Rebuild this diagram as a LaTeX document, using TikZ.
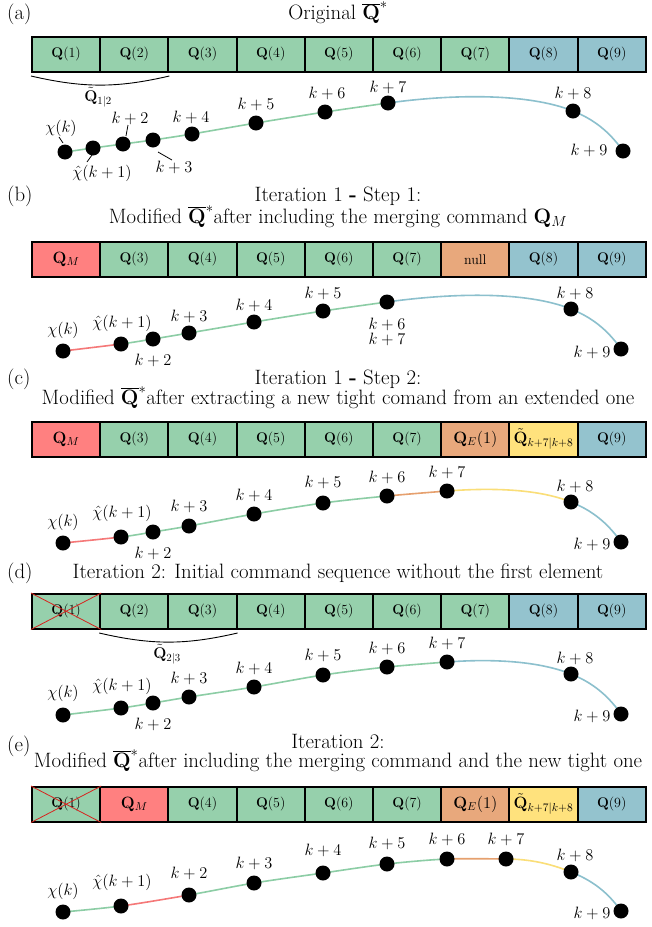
\RequirePackage{fix-cm}
\documentclass[tikz,border=0pt]{standalone}
\definecolor{gfill}{RGB}{150,208,172}
\definecolor{bfill}{RGB}{148,195,206}
\definecolor{rfill}{RGB}{255,128,128}
\definecolor{ofill}{RGB}{232,168,124}
\definecolor{yfill}{RGB}{255,226,125}
\definecolor{gline}{RGB}{140,205,165}
\definecolor{bline}{RGB}{140,192,205}
\definecolor{rline}{RGB}{245,120,120}
\definecolor{oline}{RGB}{230,160,110}
\definecolor{yline}{RGB}{250,222,120}
\definecolor{xred}{RGB}{215,35,30}
\newcommand\fttl{\fontsize{20.8}{23}\selectfont}
\newcommand\flbl{\fontsize{16.4}{19}\selectfont}
\newcommand\fsml{\fontsize{14}{16}\selectfont}
\newcommand\fbrc{\fontsize{15.5}{18}\selectfont}
\newcommand\Qb{\mathbf{Q}}
\newcommand\cmdrow[3]{\foreach \f/\t [count=\i from 0] in {#3} {\node[cmd, fill=\f] (#1\i) at ({31+68.2*\i},#2) {\t};}}
\newcommand\ptsrow[2]{\foreach \x/\y [count=\i from 0] in {#2} {\coordinate (#1c\i) at (\x,\y);}}
\newcommand\dotsrow[2]{\foreach \i in {0,...,#2} {\node[dot] (#1d\i) at (#1c\i) {};}}
\newcommand\lblrow[2]{\foreach \x/\y/\t [count=\i from 0] in {#2} {\node[lbl] (#1l\i) at (\x,\y) {\t};}}
\newcommand\seg[3]{\begin{scope}\clip ([yshift=80pt]#2) rectangle ([yshift=-80pt]#3); \path[draw, traj, #1, use path=\curP];\end{scope}}
\tikzset{
 cmd/.style={draw=black, line width=2pt, minimum width=68.2pt, minimum height=34.5pt, inner sep=0pt, anchor=north west, font=\fsml},
 dot/.style={circle, fill=black, minimum size=15pt, inner sep=0pt},
 lbl/.style={font=\flbl, inner sep=0pt},
 ttl/.style={font=\fttl, anchor=base, inner sep=0pt},
 traj/.style={line width=1.6pt},
 brc/.style={line width=0.9pt},
 lead/.style={line width=0.8pt},
 cross/.style={xred, line width=0.8pt},
}
\begin{document}
\begin{tikzpicture}[x=1pt,y=-1pt]
\useasboundingbox[fill=white] (0,0) rectangle (652,927);
% ---------------- (a)
\node[ttl, anchor=base west] (ta) at (7,19.5) {(a)};
\node[ttl] (ta1) at (338,19.5) {Original $\overline{\Qb}^*$};
\cmdrow{a}{36}{gfill/$\Qb(1)$, gfill/$\Qb(2)$, gfill/$\Qb(3)$, gfill/$\Qb(4)$, gfill/$\Qb(5)$, gfill/$\Qb(6)$, gfill/$\Qb(7)$, bfill/$\Qb(8)$, bfill/$\Qb(9)$}
\draw[brc] ([yshift=-3.5pt]a0.south west) to[bend right=13] ([yshift=-3.5pt]a1.south east);
\node[font=\fbrc] (aq) at (98,97) {$\tilde{\Qb}_{1|2}$};
\ptsrow{a}{65/152, 93/148, 123/144, 153/140, 192/134, 256/123, 325/112, 388/103, 573/111, 623/151}
\path[save path=\curP] plot[smooth] coordinates {(ac0) (ac1) (ac2) (ac3) (ac4) (ac5) (ac6) (ac7)}
  .. controls ([shift={(65,-9)}]ac7) and ([shift={(-45,-18)}]ac8) .. (ac8)
  .. controls ([shift={(20,8)}]ac8) and ([shift={(-14,-20)}]ac9) .. (ac9);
\seg{gline}{ac0}{ac7}
\seg{bline}{ac7}{ac9}
\dotsrow{a}{9}
\lblrow{a}{61/128/{$\chi(k)$}, 102/173/{$\hat{\chi}(k+1)$}, 130/118/{$k+2$}, 174/167/{$k+3$}, 191/117/{$k+4$}, 256/104/{$k+5$}, 327/93/{$k+6$}, 388/87/{$k+7$}, 573/93/{$k+8$}, 589/150/{$k+9$}}
\draw[lead] ([shift={(-2,-9)}]ad0.center) -- ([shift={(-6,-15)}]ad0.center);
\draw[lead] ([shift={(3,-8)}]ad2.center) -- ([shift={(5,-19)}]ad2.center);
\draw[lead] ([shift={(-1,7)}]ad1.center) -- ([shift={(-6,14)}]ad1.center);
\draw[lead] ([shift={(5,12)}]ad3.center) -- ([shift={(19,20)}]ad3.center);
% ---------------- (b)
\node[ttl, anchor=base west] (tb) at (7,201.5) {(b)};
\node[ttl] (tb1) at (338,201.5) {Iteration 1 \textbf{-} Step 1:};
\node[ttl] (tb2) at (338,223) {Modified $\overline{\Qb}^*$after including the merging command $\Qb_M$};
\cmdrow{b}{241}{rfill/{\flbl$\Qb_M$}, gfill/$\Qb(3)$, gfill/$\Qb(4)$, gfill/$\Qb(5)$, gfill/$\Qb(6)$, gfill/$\Qb(7)$, ofill/null, bfill/$\Qb(8)$, bfill/$\Qb(9)$}
\ptsrow{b}{63/351, 121/344, 153/339, 189/333, 254/322, 323/311, 387/302, 571/309, 621/349}
\path[save path=\curP] plot[smooth] coordinates {(bc0) (bc1) (bc2) (bc3) (bc4) (bc5) (bc6)}
  .. controls ([shift={(65,-9)}]bc6) and ([shift={(-45,-18)}]bc7) .. (bc7)
  .. controls ([shift={(20,8)}]bc7) and ([shift={(-14,-20)}]bc8) .. (bc8);
\seg{rline}{bc0}{bc1}
\seg{gline}{bc1}{bc6}
\seg{bline}{bc6}{bc8}
\dotsrow{b}{8}
\lblrow{b}{63/330/{$\chi(k)$}, 122/323/{$\hat{\chi}(k+1)$}, 153/360/{$k+2$}, 189/316/{$k+3$}, 254/305/{$k+4$}, 323/293/{$k+5$}, 387/324/{$k+6$}, 387/339/{$k+7$}, 575/293/{$k+8$}, 592/352/{$k+9$}}
% ---------------- (c)
\node[ttl, anchor=base west] (tc) at (7,384) {(c)};
\node[ttl] (tc1) at (338,384) {Iteration 1 \textbf{-} Step 2:};
\node[ttl] (tc2) at (338,404) {Modified $\overline{\Qb}^*$after extracting a new tight comand from an extended one};
\cmdrow{c}{421}{rfill/{\flbl$\Qb_M$}, gfill/$\Qb(3)$, gfill/$\Qb(4)$, gfill/$\Qb(5)$, gfill/$\Qb(6)$, gfill/$\Qb(7)$, ofill/{\flbl$\Qb_E(1)$}, yfill/{\flbl$\tilde{\Qb}_{k+7|k+8}$}, bfill/$\Qb(9)$}
\ptsrow{c}{63/543, 121/537, 153/532, 189/526, 254/514, 323/503, 387/496, 447/491, 571/502, 621/542}
\path[save path=\curP] plot[smooth] coordinates {(cc0) (cc1) (cc2) (cc3) (cc4) (cc5) (cc6) (cc7)}
  .. controls ([shift={(40,-3)}]cc7) and ([shift={(-35,-14)}]cc8) .. (cc8)
  .. controls ([shift={(20,8)}]cc8) and ([shift={(-14,-20)}]cc9) .. (cc9);
\seg{rline}{cc0}{cc1}
\seg{gline}{cc1}{cc6}
\seg{oline}{cc6}{cc7}
\seg{yline}{cc7}{cc8}
\seg{bline}{cc8}{cc9}
\dotsrow{c}{9}
\lblrow{c}{63/522/{$\chi(k)$}, 122/513/{$\hat{\chi}(k+1)$}, 153/553/{$k+2$}, 189/506/{$k+3$}, 254/495/{$k+4$}, 323/482/{$k+5$}, 387/477/{$k+6$}, 447/472/{$k+7$}, 575/486/{$k+8$}, 592/544/{$k+9$}}
% ---------------- (d)
\node[ttl, anchor=base west] (td) at (7,578) {(d)};
\node[ttl] (td1) at (338,578) {Iteration 2: Initial command sequence without the first element};
\cmdrow{d}{593}{gfill/$\Qb(1)$, gfill/$\Qb(2)$, gfill/$\Qb(3)$, gfill/$\Qb(4)$, gfill/$\Qb(5)$, gfill/$\Qb(6)$, gfill/$\Qb(7)$, bfill/$\Qb(8)$, bfill/$\Qb(9)$}
\draw[cross] (d0.north west) -- (d0.south east) (d0.south west) -- (d0.north east);
\draw[brc] ([yshift=-3.5pt]d1.south west) to[bend right=13] ([yshift=-3.5pt]d2.south east);
\node[font=\fbrc] (dq) at (167,654) {$\tilde{\Qb}_{2|3}$};
\ptsrow{d}{63/715, 121/708, 153/703, 189/697, 254/687, 323/675, 387/667, 447/662, 571/674, 621/714}
\path[save path=\curP] plot[smooth] coordinates {(dc0) (dc1) (dc2) (dc3) (dc4) (dc5) (dc6) (dc7)}
  .. controls ([shift={(40,-3)}]dc7) and ([shift={(-35,-14)}]dc8) .. (dc8)
  .. controls ([shift={(20,8)}]dc8) and ([shift={(-14,-20)}]dc9) .. (dc9);
\seg{gline}{dc0}{dc7}
\seg{bline}{dc7}{dc9}
\dotsrow{d}{9}
\lblrow{d}{63/693/{$\chi(k)$}, 122/686/{$\hat{\chi}(k+1)$}, 153/724/{$k+2$}, 189/678/{$k+3$}, 254/668/{$k+4$}, 323/655/{$k+5$}, 387/648/{$k+6$}, 447/643/{$k+7$}, 575/658/{$k+8$}, 592/716/{$k+9$}}
% ---------------- (e)
\node[ttl, anchor=base west] (te) at (7,751) {(e)};
\node[ttl] (te1) at (338,748) {Iteration 2:};
\node[ttl] (te2) at (338,767) {Modified $\overline{\Qb}^*$after including the merging command and the new tight one};
\cmdrow{e}{786}{gfill/$\Qb(1)$, rfill/{\flbl$\Qb_M$}, gfill/$\Qb(4)$, gfill/$\Qb(5)$, gfill/$\Qb(6)$, gfill/$\Qb(7)$, ofill/{\flbl$\Qb_E(1)$}, yfill/{\flbl$\tilde{\Qb}_{k+7|k+8}$}, bfill/$\Qb(9)$}
\draw[cross] (e0.north west) -- (e0.south east) (e0.south west) -- (e0.north east);
\ptsrow{e}{63/912, 121/906, 189/895, 254/883, 323/873, 387/864, 447/859, 506/859, 571/872, 621/911}
\path[save path=\curP] plot[smooth] coordinates {(ec0) (ec1) (ec2) (ec3) (ec4) (ec5) (ec6) (ec7)}
  .. controls ([shift={(22,0)}]ec7) and ([shift={(-22,-9)}]ec8) .. (ec8)
  .. controls ([shift={(20,8)}]ec8) and ([shift={(-14,-20)}]ec9) .. (ec9);
\seg{gline}{ec0}{ec1}
\seg{rline}{ec1}{ec2}
\seg{gline}{ec2}{ec6}
\seg{oline}{ec6}{ec7}
\seg{yline}{ec7}{ec8}
\seg{bline}{ec8}{ec9}
\dotsrow{e}{9}
\lblrow{e}{63/891/{$\chi(k)$}, 122/882/{$\hat{\chi}(k+1)$}, 189/873/{$k+2$}, 254/863/{$k+3$}, 323/850/{$k+4$}, 387/843/{$k+5$}, 447/839/{$k+6$}, 506/839/{$k+7$}, 575/855/{$k+8$}, 592/913/{$k+9$}}
\end{tikzpicture}
\end{document}
